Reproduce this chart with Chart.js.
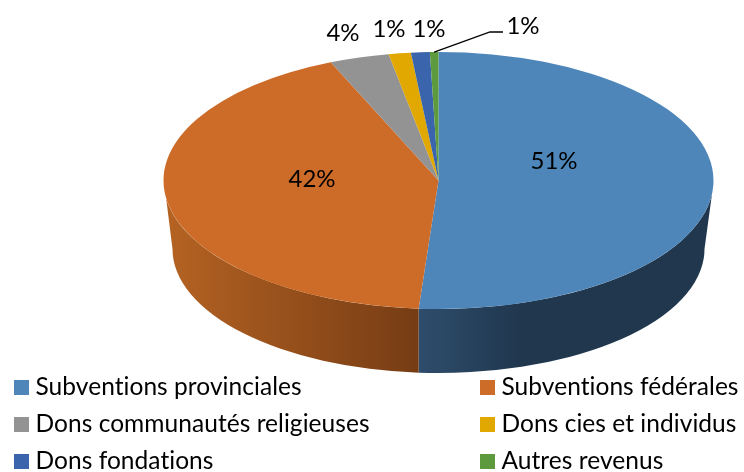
<!DOCTYPE html>
<html>
<head>
<meta charset="utf-8">
<style>html,body{margin:0;padding:0;background:#fff}canvas{display:block}</style>
<script src="https://cdn.jsdelivr.net/npm/chart.js@4"></script>
</head>
<body>
<canvas id="c" width="744" height="472"></canvas>
<script>
const categories = ['Subventions provinciales','Subventions fédérales','Dons communautés religieuses','Dons cies et individus','Dons fondations','Autres revenus'];
const shares = [51.1, 42.4, 3.5, 1.3, 1.1, 0.5];
const colors = ['#4e86ba','#cd6b28','#939393','#e0a800','#3a64ab','#5d9a3d'];
const sideStops = [
  [[0,'#2e4d6c'],[0.36,'#20374e'],[1,'#20374e']],
  [[0,'#763c14'],[1,'#b36222']],
  [[0,'#666'],[1,'#666']],[[0,'#9c7500'],[1,'#9c7500']],[[0,'#28467a'],[1,'#28467a']],[[0,'#41692a'],[1,'#41692a']]
];
const labelAnchors = [[554,161],[312,179],[343,33],[389,29],[429,29],[523,26]];
const legendAnchors = [[14,380],[480,380],[14,417],[480,417],[14,454],[480,454]];
const LABEL_FONT = '24px Lato, Carlito, sans-serif';
const LEGEND_FONT = '24.5px Lato, Carlito, sans-serif';
const SQUASH = 128.5/275, BASE_R = 266, BASE_RY = 124, BASE_CY = 249;

const pie3d = {
  id:'pie3d',
  beforeDatasetsDraw(chart){
    const ctx = chart.ctx, arcs = chart.getDatasetMeta(0).data;
    arcs.forEach((arc,i)=>{
      const {x:cx,y:cy,outerRadius:r,startAngle,endAngle} = arc.getProps(['x','y','outerRadius','startAngle','endAngle'],true);
      const lim0 = 6*Math.PI/180, lim1 = 172*Math.PI/180;
      const a0 = Math.max(startAngle,lim0), a1 = Math.min(endAngle,lim1);
      if(a1<=a0) return;
      const base = a => Math.acos(Math.max(-1,Math.min(1,r*Math.cos(a)/BASE_R)));
      const near = i===0 ? a1 : a0;
      const xa = cx+r*Math.cos(near), xb = i===0 ? cx+BASE_R : cx-BASE_R;
      const g = ctx.createLinearGradient(xa,0,xb,0);
      sideStops[i].forEach(s=>g.addColorStop(s[0],s[1]));
      ctx.save();
      ctx.beginPath();
      ctx.ellipse(cx,cy,r,r*SQUASH,0,a0,a1);
      ctx.ellipse(cx,BASE_CY,BASE_R,BASE_RY,0,base(a1),base(a0),true);
      ctx.closePath();
      ctx.fillStyle = g;
      ctx.fill();
      ctx.restore();
    });
  },
  beforeDatasetDraw(chart){
    const ctx = chart.ctx, a = chart.getDatasetMeta(0).data[0];
    ctx.save();
    ctx.translate(0,a.y);
    ctx.scale(1,SQUASH);
    ctx.translate(0,-a.y);
  },
  afterDatasetDraw(chart){ chart.ctx.restore(); },
  afterDatasetsDraw(chart){
    const ctx = chart.ctx, arcs = chart.getDatasetMeta(0).data;
    ctx.save();
    const last = arcs[arcs.length-1];
    const mid = (last.startAngle+last.endAngle)/2;
    ctx.strokeStyle='#000'; ctx.lineWidth=1.3;
    ctx.beginPath();
    ctx.moveTo(last.x+last.outerRadius*Math.cos(mid), last.y+last.outerRadius*SQUASH*Math.sin(mid));
    ctx.lineTo(490,32); ctx.lineTo(503,32);
    ctx.stroke();
    ctx.font = LABEL_FONT; ctx.fillStyle='#000';
    ctx.textAlign='center'; ctx.textBaseline='middle';
    shares.forEach((v,i)=>ctx.fillText(Math.round(v)+'%',labelAnchors[i][0],labelAnchors[i][1]));
    ctx.textAlign='left';
    ctx.font = LEGEND_FONT;
    ctx.letterSpacing = '0.05px';
    categories.forEach((name,i)=>{
      const [x,y]=legendAnchors[i];
      ctx.fillStyle=colors[i]; ctx.fillRect(x,y,15,15);
      ctx.fillStyle='#000'; ctx.fillText(name,x+21.5,y+7.5);
    });
    ctx.restore();
  }
};

new Chart(document.getElementById('c'),{
  type:'pie',
  data:{labels:categories,datasets:[{data:shares,backgroundColor:colors,borderWidth:0,clip:false,radius:275}]},
  options:{
    responsive:false,animation:false,
    layout:{padding:{left:133,right:0,top:0,bottom:111}},
    plugins:{legend:{display:false},tooltip:{enabled:false}}
  },
  plugins:[pie3d]
});
</script>
</body>
</html>
